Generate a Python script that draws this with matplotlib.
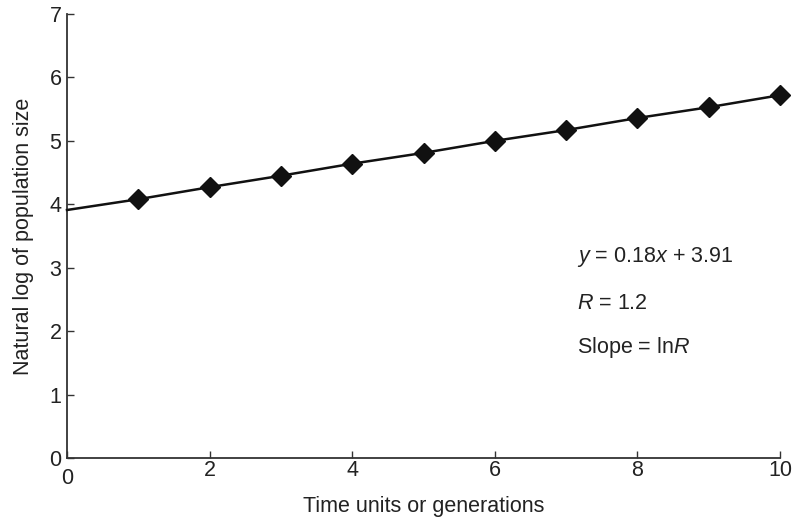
import matplotlib
matplotlib.use("Agg")
import matplotlib.pyplot as plt
from matplotlib.transforms import ScaledTranslation

# Data
time_units = [0, 1, 2, 3, 4, 5, 6, 7, 8, 9, 10]
log_pop = [3.91, 4.08, 4.27, 4.45, 4.64, 4.81, 5.00, 5.17, 5.36, 5.53, 5.72]
x_ticks = [0, 2, 4, 6, 8, 10]
y_ticks = [0, 1, 2, 3, 4, 5, 6, 7]

plt.rcParams['font.family'] = ['Liberation Sans', 'DejaVu Sans']
plt.rcParams['mathtext.fontset'] = 'custom'
plt.rcParams['mathtext.rm'] = 'Liberation Sans'
plt.rcParams['mathtext.it'] = 'Liberation Sans:italic'

text_color = '#222222'
axis_color = '#333333'
fs = 15.5

fig = plt.figure(figsize=(7.93, 5.17), dpi=100)
ax = fig.add_axes([67/793, 59/517, 713/793, 444/517])

ax.plot(time_units, log_pop, color='#111111', linewidth=1.8,
        marker='D', markersize=10, markevery=list(range(1, len(time_units))),
        markerfacecolor='#111111', markeredgecolor='#111111', clip_on=False,
        zorder=3)

ax.set_xlim(0, 10)
ax.set_ylim(0, 7)
ax.set_xticks(x_ticks)
ax.set_yticks(y_ticks)
for s in ['top', 'right']:
    ax.spines[s].set_visible(False)
for s in ['left', 'bottom']:
    ax.spines[s].set_color(axis_color)
    ax.spines[s].set_linewidth(1.3)
ax.tick_params(direction='in', length=5, width=1.0, color=axis_color,
               labelsize=fs, labelcolor=text_color)
ax.tick_params(axis='x', pad=1.5)
ax.tick_params(axis='y', pad=4)

# the x-axis "0" sits slightly lower in the reference
lbl0 = ax.get_xticklabels()[0]
lbl0.set_transform(lbl0.get_transform() + ScaledTranslation(0, -6/72, fig.dpi_scale_trans))

ax.set_xlabel('Time units or generations', fontsize=fs, color=text_color, labelpad=5)
ax.set_ylabel('Natural log of population size', fontsize=fs, color=text_color, labelpad=11)

ax.text(7.15, 3.17, r'$y$ = 0.18$x$ + 3.91', fontsize=fs, color=text_color, va='center', ha='left')
ax.text(7.15, 2.43, r'$R$ = 1.2', fontsize=fs, color=text_color, va='center', ha='left')
ax.text(7.15, 1.75, r'Slope = ln$R$', fontsize=fs, color=text_color, va='center', ha='left')

fig.savefig('out.png', dpi=100)
